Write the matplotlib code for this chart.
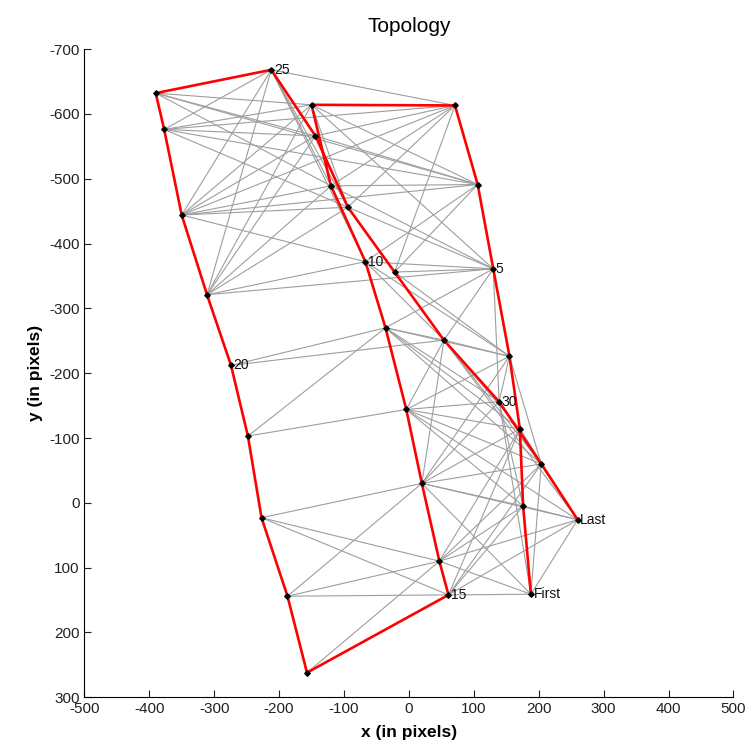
import numpy as np
import matplotlib
matplotlib.use("Agg")
import matplotlib.pyplot as plt

plt.rcParams['font.family'] = ['Liberation Sans', 'DejaVu Sans']
plt.rcParams['axes.unicode_minus'] = False

# node positions in path order (1 = First, 32 = Last)
node_x = [188, 176, 171, 155, 130, 106, 71, -150, -120, -67,
          -36, -4, 20, 47, 61, -157, -187, -227, -248, -274,
          -311, -350, -377, -390, -212, -144, -94, -22, 54, 139,
          204, 260]
node_y = [141, 5, -114, -226, -361, -491, -613, -614, -489, -372,
          -270, -144, -30, 90, 142, 262, 144, 23, -103, -212,
          -321, -444, -576, -632, -668, -566, -456, -356, -251, -156,
          -60, 26]

# which nodes get a text label
label_nodes = [1, 5, 10, 15, 20, 25, 30, 32]
label_text = ["First", "5", "10", "15", "20", "25", "30", "Last"]

# grey links between nodes (1-based ids)
links = [
    (1, 15), (1, 14), (1, 13), (1, 32), (1, 31),
    (2, 13), (2, 14), (2, 15), (2, 12), (2, 30), (2, 32),
    (3, 11), (3, 12), (3, 13), (3, 14), (3, 15), (3, 29), (3, 31), (3, 32),
    (4, 10), (4, 11), (4, 12), (4, 13), (4, 28), (4, 29), (4, 30), (4, 31),
    (5, 8), (5, 9), (5, 10), (5, 11), (5, 21), (5, 27), (5, 28), (5, 29), (5, 30),
    (6, 8), (6, 9), (6, 10), (6, 22), (6, 23), (6, 24), (6, 26), (6, 28),
    (7, 9), (7, 22), (7, 23), (7, 25), (7, 26), (7, 27), (7, 28),
    (8, 21), (8, 22), (8, 23), (8, 24), (8, 27),
    (9, 21), (9, 22), (9, 24), (9, 25),
    (10, 21), (10, 22), (10, 25), (10, 29),
    (11, 19), (11, 20), (11, 29), (11, 30), (11, 31),
    (12, 19), (12, 29), (12, 30), (12, 31), (12, 32),
    (13, 17), (13, 18), (13, 29), (13, 30), (13, 31), (13, 32),
    (14, 16), (14, 17), (14, 18), (14, 31), (14, 32),
    (15, 17), (15, 18), (15, 31), (15, 32),
    (20, 29),
    (21, 25), (21, 26), (21, 27),
    (22, 25), (22, 26), (22, 27),
    (23, 25), (23, 26), (23, 27),
    (24, 26),
    (25, 27),
    (29, 31), (29, 32),
    (30, 32), (30, 1),
]

fig = plt.figure(figsize=(7.53, 7.49), dpi=100)
ax = fig.add_axes([0.112, 0.069, 0.862, 0.8655])

for a, b in links:
    ax.plot([node_x[a - 1], node_x[b - 1]], [node_y[a - 1], node_y[b - 1]],
            color=(0.62, 0.62, 0.62), lw=0.8, zorder=1)

ax.plot(node_x, node_y, color='red', lw=1.9, zorder=2)
ax.plot(node_x, node_y, ls='none', marker='D', ms=2.8, color='black', zorder=3)

for n, t in zip(label_nodes, label_text):
    ax.text(node_x[n - 1] + 4, node_y[n - 1], t, fontsize=10, color='#111111',
            va='center', ha='left', zorder=4)

ax.set_xlim(-500, 500)
ax.set_ylim(300, -700)
ax.set_xticks(np.arange(-500, 501, 100))
ax.set_yticks(np.arange(-700, 301, 100))
ax.tick_params(direction='in', length=5, labelsize=11, colors='#222222')
ax.spines['top'].set_visible(False)
ax.spines['right'].set_visible(False)
ax.set_title("Topology", fontsize=15, pad=12)
ax.set_xlabel("x (in pixels)", fontsize=12.5, fontweight='bold', labelpad=6)
ax.set_ylabel("y (in pixels)", fontsize=12.5, fontweight='bold')

fig.savefig("out.png", dpi=100)
